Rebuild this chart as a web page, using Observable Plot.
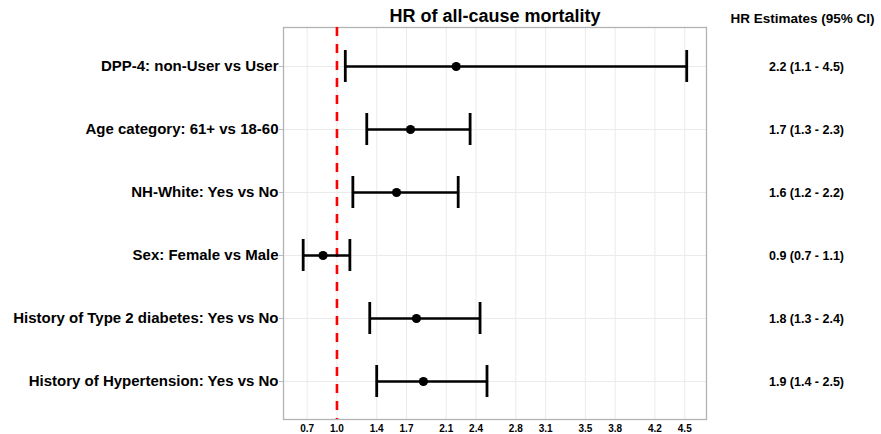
<!DOCTYPE html>
<html>
<head>
<meta charset="utf-8">
<script src="https://cdn.jsdelivr.net/npm/d3@7"></script>
<script src="https://cdn.jsdelivr.net/npm/@observablehq/plot@0.6"></script>
<style>
  html, body { margin: 0; padding: 0; background: #ffffff; }
  #chart { width: 881px; height: 434px; }
</style>
</head>
<body>
<div id="chart"></div>
<script>
// ---- Data ----
const categories = [
  "DPP-4: non-User vs User",
  "Age category: 61+ vs 18-60",
  "NH-White: Yes vs No",
  "Sex: Female vs Male",
  "History of Type 2 diabetes: Yes vs No",
  "History of Hypertension: Yes vs No"
];
const hrEstimate = [2.20, 1.74, 1.60, 0.86, 1.80, 1.87];
const ciLower    = [1.084, 1.30, 1.16, 0.66, 1.33, 1.40];
const ciUpper    = [4.52, 2.34, 2.22, 1.13, 2.44, 2.51];
const xTicks = [0.7, 1.0, 1.4, 1.7, 2.1, 2.4, 2.8, 3.1, 3.5, 3.8, 4.2, 4.5];
const referenceHR = [1];
const titleText = "HR of all-cause mortality";
const columnHeader = "HR Estimates (95% CI)";

const rows = categories.map((c, i) => ({
  label: c,
  est: hrEstimate[i],
  lo: ciLower[i],
  hi: ciUpper[i],
  text: `${hrEstimate[i].toFixed(1)} (${ciLower[i].toFixed(1)} - ${ciUpper[i].toFixed(1)})`
}));

const font = "'Liberation Sans', Arial, Helvetica, sans-serif";

const chart = Plot.plot({
  width: 881,
  height: 434,
  marginLeft: 283,
  marginRight: 175,
  marginTop: 27,
  marginBottom: 15,
  style: { fontFamily: font, fontWeight: "bold", color: "#000", background: "#fff", overflow: "visible" },
  x: { domain: [0.462, 4.719], ticks: xTicks },
  y: { type: "band", domain: categories, paddingInner: 0.5, paddingOuter: 0.35 },
  marks: [
    Plot.gridX(xTicks, { stroke: "#ebebeb", strokeOpacity: 1, strokeWidth: 1 }),
    Plot.gridY(categories, { stroke: "#ebebeb", strokeOpacity: 1, strokeWidth: 1 }),
    Plot.frame({ stroke: "#b3b3b3", strokeWidth: 1.3 }),
    Plot.axisX(xTicks, { tickSize: 0, tickPadding: 5, tickFormat: d3.format(".1f"), fontSize: 10, fontWeight: "bold", label: null }),
    Plot.axisY({ tickSize: 4, tickPadding: 1, stroke: "#bdbdbd", fontSize: 15, fontWeight: "bold", label: null }),
    Plot.ruleX(referenceHR, { stroke: "#ff0000", strokeWidth: 2.6, strokeDasharray: "9,8" }),
    Plot.ruleY(rows, { y: "label", x1: "lo", x2: "hi", stroke: "#000", strokeWidth: 2.4 }),
    Plot.tickX(rows, { x: "lo", y: "label", stroke: "#000", strokeWidth: 2.8 }),
    Plot.tickX(rows, { x: "hi", y: "label", stroke: "#000", strokeWidth: 2.8 }),
    Plot.dot(rows, { x: "est", y: "label", r: 4.6, fill: "#000", stroke: "none" }),
    Plot.text(rows, { y: "label", text: "text", frameAnchor: "right", dx: 100, textAnchor: "middle", fontSize: 12.5, fontWeight: "bold", fill: "#000" }),
    Plot.text([titleText], { frameAnchor: "top", lineAnchor: "bottom", dy: -6, fontSize: 18, fontWeight: "bold", fill: "#000" }),
    Plot.text([columnHeader], { frameAnchor: "top-right", dx: 96, dy: -8.5, textAnchor: "middle", lineAnchor: "middle", fontSize: 13.5, fontWeight: "bold", fill: "#000" })
  ]
});

document.getElementById("chart").appendChild(chart);
</script>
</body>
</html>
